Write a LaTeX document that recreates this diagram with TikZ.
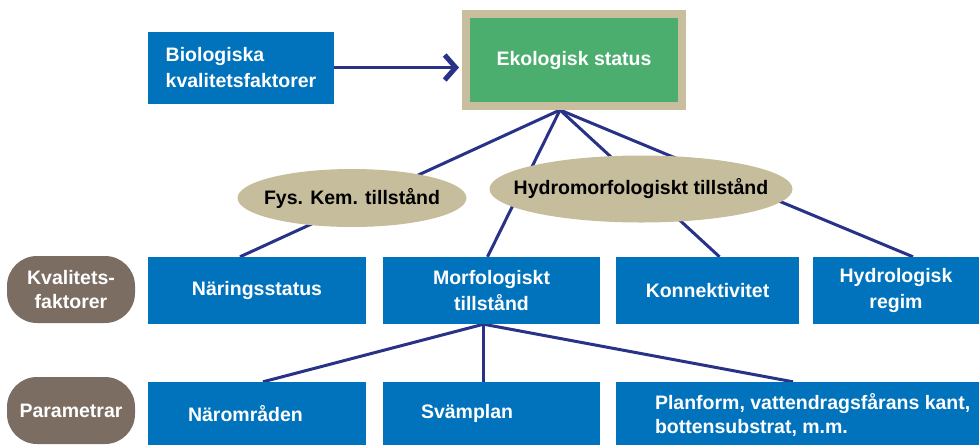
\documentclass[tikz,border=0pt]{standalone}
\usepackage{fontspec}
\setmainfont{Liberation Sans}
\usetikzlibrary{shapes.geometric,arrows.meta,backgrounds}
\definecolor{boxblue}{RGB}{0,115,188}
\definecolor{ekogreen}{RGB}{75,174,110}
\definecolor{frametan}{RGB}{200,190,158}
\definecolor{elltan}{RGB}{198,189,156}
\definecolor{pillbrown}{RGB}{124,109,98}
\definecolor{navy}{RGB}{40,50,135}
\begin{document}
\begin{tikzpicture}[x=1pt, y=-1pt, every node/.style={font=\bfseries\fontsize{19.5}{24}\selectfont},
  bx/.style={fill=boxblue, text=white, align=center, inner sep=0pt, minimum height=67pt, font=\bfseries\fontsize{19.5}{26.5}\selectfont},
  lo/.style={fill=boxblue, inner sep=0pt, minimum height=63pt},
  lotxt/.style={text=white, align=left, inner sep=0pt, anchor=west},
  el/.style={ellipse, fill=elltan, inner sep=0pt},
  pill/.style={fill=pillbrown, text=white, rounded corners=30pt, align=center, inner sep=0pt, minimum width=128pt, minimum height=67pt},
  ln/.style={line width=3pt, navy}]
  \useasboundingbox (0,0) rectangle (979,445);
  \node[bx, align=left, minimum width=186pt, minimum height=72pt, font=\bfseries\fontsize{19.5}{25.5}\selectfont] (bio) at (241,67.5) {Biologiska\\kvalitetsfaktorer};
  \node[fill=ekogreen, draw=frametan, line width=8pt, text=white, minimum width=216pt, minimum height=92pt, inner sep=0pt] (eko) at (574,60) {Ekologisk status};
  \node[el, minimum width=229pt, minimum height=58pt] (fys) at (352,198) {\makebox[0pt]{Fys. Kem. tillstånd}};
  \node[el, minimum width=303pt, minimum height=67pt] (hyd) at (641,189) {\makebox[0pt]{Hydromorfologiskt tillstånd}};
  \node[pill] (kf) at (71,289.5) {Kvalitets-\\faktorer};
  \node[pill] (par) at (71,410.5) {Parametrar};
  \node[bx, minimum width=218pt] (nar) at (257,290.5) {Näringsstatus};
  \node[bx, minimum width=217pt] (mor) at (491.5,290.5) {Morfologiskt\\tillstånd};
  \node[bx, minimum width=183pt] (kon) at (707.5,290.5) {Konnektivitet};
  \node[bx, minimum width=166pt] (hyr) at (896,290.5) {Hydrologisk\\regim};
  \node[lo, minimum width=218pt] (nom) at (257,413.5) {};
  \node[lo, minimum width=217pt] (sva) at (491.5,413.5) {};
  \node[lo, minimum width=363pt] (pla) at (797.5,413.5) {};
  \node[lotxt] at ([xshift=40pt]nom.west) {Närområden};
  \node[lotxt] at ([xshift=38pt]sva.west) {Svämplan};
  \node[lotxt] at ([xshift=39pt, yshift=-1.5pt]pla.west) {Planform, vattendragsfårans kant,\\bottensubstrat, m.m.};
  \draw[ln, line width=3.5pt, -{Straight Barb[length=11pt, width=25pt, line width=5pt]}, shorten >=3pt] (bio.east) -- (bio.east -| eko.west);
  \begin{scope}[on background layer]
    \draw[ln] ([xshift=-14pt]eko.south) -- ([xshift=-17pt]nar.north);
    \draw[ln] ([xshift=-14pt]eko.south) -- ([xshift=-4pt]mor.north);
    \draw[ln] ([xshift=-14pt]eko.south) -- ([xshift=12pt]kon.north);
    \draw[ln] ([xshift=-14pt]eko.south) -- ([xshift=17pt]hyr.north);
    \draw[ln] ([xshift=-8pt]mor.south) -- ([xshift=6pt]nom.north);
    \draw[ln] ([xshift=-8pt]mor.south) -- ([xshift=-8pt]sva.north);
    \draw[ln] ([xshift=-8pt]mor.south) -- ([xshift=-4.5pt]pla.north);
  \end{scope}
\end{tikzpicture}
\end{document}
